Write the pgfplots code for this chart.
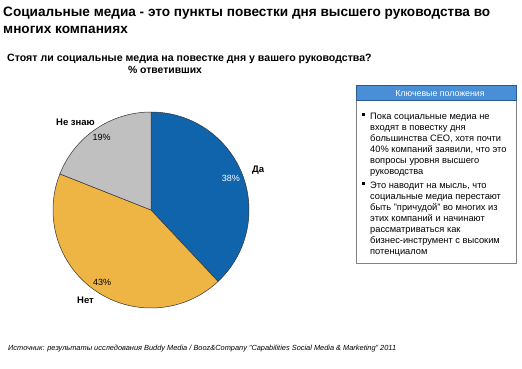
\documentclass[border=0pt]{standalone}
\usepackage{pgfplots}
\usepackage{pgfplotstable}
\pgfplotsset{compat=1.18}
\usetikzlibrary{calc}
\usepackage{fontspec}
\setmainfont{Liberation Sans}
\definecolor{pieblue}{RGB}{16,100,172}
\definecolor{pieorange}{RGB}{238,180,68}
\definecolor{piegray}{RGB}{192,192,192}
\definecolor{hdrblue}{RGB}{74,142,214}
\definecolor{hdrborder}{RGB}{40,90,150}
\definecolor{boxgray}{RGB}{130,130,130}

\pgfplotstableread{
label value
Да 38
Нет 43
НеЗнаю 19
}\piedata

\begin{document}
\begin{tikzpicture}
\pgfplotstablegetelem{0}{value}\of\piedata \let\va\pgfplotsretval
\pgfplotstablegetelem{1}{value}\of\piedata \let\vb\pgfplotsretval
\pgfplotstablegetelem{2}{value}\of\piedata \let\vc\pgfplotsretval
\pgfmathsetmacro{\aA}{90}
\pgfmathsetmacro{\aB}{\aA-3.6*\va}
\pgfmathsetmacro{\aC}{\aB-3.6*\vb}
\pgfmathsetmacro{\aD}{\aC-3.6*\vc}
\pgfmathsetmacro{\mA}{(\aA+\aB)/2}
\pgfmathsetmacro{\mB}{(\aB+\aC)/2}
\pgfmathsetmacro{\mC}{(\aC+\aD)/2}
\begin{axis}[
  width=522pt, height=368pt, scale only axis,
  xmin=0, xmax=522, ymin=0, ymax=368, y dir=reverse,
  hide axis, clip=false,
]
\fill[white] (axis cs:0,0) rectangle (axis cs:522,368);
% title
\node[anchor=base west, font=\bfseries\fontsize{13.6}{16}\selectfont, inner sep=0pt] at (axis cs:3,16) {Социальные медиа - это пункты повестки дня высшего руководства во};
\node[anchor=base west, font=\bfseries\fontsize{13.6}{16}\selectfont, inner sep=0pt] at (axis cs:3,33) {многих компаниях};
% subtitle
\node[anchor=base west, font=\bfseries\fontsize{10.6}{12}\selectfont, inner sep=0pt] at (axis cs:7,61) {Стоят ли социальные медиа на повестке дня у вашего руководства?};
\node[anchor=base, font=\bfseries\fontsize{10.4}{12}\selectfont, inner sep=0pt] at (axis cs:165,73) {\% ответивших};
% pie
\fill[pieblue, draw=black!80, line width=0.5pt] (axis cs:151,210) -- ++(\aA:98pt) arc[start angle=\aA, end angle=\aB, radius=98pt] -- cycle;
\fill[pieorange, draw=black!80, line width=0.5pt] (axis cs:151,210) -- ++(\aB:98pt) arc[start angle=\aB, end angle=\aC, radius=98pt] -- cycle;
\fill[piegray, draw=black!80, line width=0.5pt] (axis cs:151,210) -- ++(\aC:98pt) arc[start angle=\aC, end angle=\aD, radius=98pt] -- cycle;
\node[font=\fontsize{9}{10}\selectfont, text=white] at ($(axis cs:151,210)+(\mA:86pt)$) {\va\%};
\node[font=\fontsize{9}{10}\selectfont] at ($(axis cs:151,210)+(\mB:87pt)$) {\vb\%};
\node[font=\fontsize{9}{10}\selectfont] at ($(axis cs:151,210)+(\mC:88pt)$) {\vc\%};
\node[font=\bfseries\fontsize{9.5}{10}\selectfont, anchor=west, inner sep=0pt] at (axis cs:252,170) {Да};
\node[font=\bfseries\fontsize{9.5}{10}\selectfont, anchor=west, inner sep=0pt] at (axis cs:77,300) {Нет};
\node[font=\bfseries\fontsize{9.5}{10}\selectfont, anchor=west, inner sep=0pt] at (axis cs:56,122) {Не знаю};
% key box
\draw[boxgray, line width=0.8pt] (axis cs:356,85) rectangle (axis cs:516,263);
\fill[hdrblue, draw=hdrborder, line width=0.6pt] (axis cs:356,85) rectangle (axis cs:516,100);
\node[anchor=base, text=white, font=\fontsize{8.8}{10}\selectfont, inner sep=0pt] at (axis cs:440,96) {Ключевые положения};
\foreach \y/\t in {119/{Пока социальные медиа не},130/{входят в повестку дня},141/{большинства CEO, хотя почти},152/{40\% компаний заявили, что это},163/{вопросы уровня высшего},174/{руководства},
188/{Это наводит на мысль, что},199/{социальные медиа перестают},210/{быть "причудой" во многих из},221/{этих компаний и начинают},232/{рассматриваться как},243/{бизнес-инструмент с высоким},254/{потенциалом}}{
  \edef\tmp{\noexpand\node[anchor=base west, inner sep=0pt, font=\noexpand\fontsize{9.3}{10}\noexpand\selectfont] at (axis cs:370,\y) {\unexpanded\expandafter{\t}};}\tmp
}
\fill[black] (axis cs:362,113) rectangle (axis cs:365,116);
\fill[black] (axis cs:362,182) rectangle (axis cs:365,185);
% source
\node[anchor=base west, inner sep=0pt, font=\itshape\fontsize{7.4}{8}\selectfont] at (axis cs:8,350) {Источник: результаты исследования Buddy Media / Booz\&Company "Capabilities Social Media \& Marketing" 2011};
\end{axis}
\end{tikzpicture}
\end{document}
